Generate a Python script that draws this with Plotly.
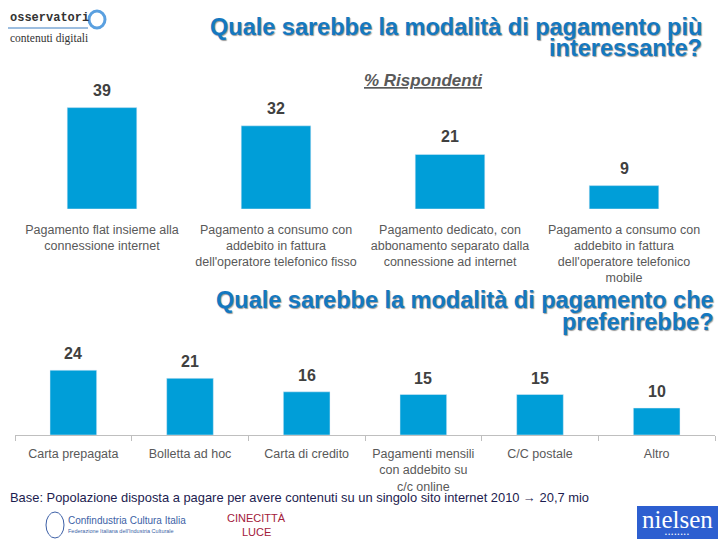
import plotly.graph_objects as go

# ---- data ----
top_categories = [
    "Pagamento flat insieme alla<br>connessione internet",
    "Pagamento a consumo con<br>addebito in fattura<br>dell'operatore telefonico fisso",
    "Pagamento dedicato, con<br>abbonamento separato dalla<br>connessione ad internet",
    "Pagamento a consumo con<br>addebito in fattura<br>dell'operatore telefonico<br>mobile",
]
top_values = [39, 32, 21, 9]

bottom_categories = [
    "Carta prepagata",
    "Bolletta ad hoc",
    "Carta di credito",
    "Pagamenti mensili<br>con addebito su<br>c/c online",
    "C/C postale",
    "Altro",
]
bottom_values = [24, 21, 16, 15, 15, 10]

title_top = ["Quale sarebbe la modalità di pagamento più", "interessante?"]
title_bottom = ["Quale sarebbe la modalità di pagamento che", "preferirebbe?"]
subtitle = "% Rispondenti"
base_note = "Base: Popolazione disposta a pagare per avere contenuti su un singolo sito internet 2010 \u2192 20,7 mio"

BAR = "#009ED8"
LBL = "#595959"
VAL = "#404040"
TITLE = "#1478C0"
FONT = "Liberation Sans Narrow, Liberation Sans, Arial, sans-serif"

W, H = 720, 540
def py(p):
    return 1 - p / H

fig = go.Figure()
fig.add_trace(go.Bar(x=top_categories, y=top_values, marker_color=BAR,
                     xaxis="x", yaxis="y", hoverinfo="skip", showlegend=False))
fig.add_trace(go.Bar(x=bottom_categories, y=bottom_values, marker_color=BAR,
                     xaxis="x2", yaxis="y2", hoverinfo="skip", showlegend=False))

annotations = []
for c, v in zip(top_categories, top_values):
    annotations.append(dict(x=c, y=v, xref="x", yref="y", text=f"<b>{v}</b>",
                            showarrow=False, yanchor="bottom", yshift=7,
                            font=dict(size=16, color=VAL, family=FONT)))
for c, v in zip(bottom_categories, bottom_values):
    annotations.append(dict(x=c, y=v, xref="x2", yref="y2", text=f"<b>{v}</b>",
                            showarrow=False, yanchor="bottom", yshift=6,
                            font=dict(size=16, color=VAL, family=FONT)))

shadow = "1px 1px 1px #9a9a9a"
tfont = dict(size=23.5, color=TITLE, family="Liberation Sans, Arial", shadow=shadow)
for line, yc in zip(title_top, [27, 48]):
    annotations.append(dict(x=704 / W, y=py(yc), xref="paper", yref="paper",
                            text=f"<b>{line}</b>", showarrow=False,
                            xanchor="right", yanchor="middle", font=tfont))
for line, yc in zip(title_bottom, [300, 322]):
    annotations.append(dict(x=716 / W, y=py(yc), xref="paper", yref="paper",
                            text=f"<b>{line}</b>", showarrow=False,
                            xanchor="right", yanchor="middle", font=tfont))

annotations += [
    dict(x=423 / W, y=py(80), xref="paper", yref="paper",
         text=f"<b><i><u>{subtitle}</u></i></b>",
         showarrow=False, xanchor="center", yanchor="middle",
         font=dict(size=17, color=LBL, family=FONT)),
    dict(x=8 / W, y=py(497), xref="paper", yref="paper", text=base_note,
         showarrow=False, xanchor="left", yanchor="middle",
         font=dict(size=12.9, color="#1c1c50", family=FONT)),
    # logos (decorative text)
    dict(x=8 / W, y=py(18), xref="paper", yref="paper", text="<b>osservatori</b>",
         showarrow=False, xanchor="left", yanchor="middle",
         font=dict(size=12, color="#333333", family="Liberation Mono, monospace")),
    dict(x=8 / W, y=py(38), xref="paper", yref="paper", text="contenuti digitali",
         showarrow=False, xanchor="left", yanchor="middle",
         font=dict(size=11.5, color="#333333", family="Liberation Serif, serif")),
    dict(x=66 / W, y=py(520), xref="paper", yref="paper", text="Confindustria Cultura Italia",
         showarrow=False, xanchor="left", yanchor="middle",
         font=dict(size=10, color="#3C5FA6", family=FONT)),
    dict(x=66 / W, y=py(531), xref="paper", yref="paper",
         text="Federazione Italiana dell'Industria Culturale",
         showarrow=False, xanchor="left", yanchor="middle",
         font=dict(size=5.5, color="#3C5FA6", family=FONT)),
    dict(x=256 / W, y=py(518), xref="paper", yref="paper", text="CINECITTÀ",
         showarrow=False, xanchor="center", yanchor="middle",
         font=dict(size=11, color="#A3203A", family="Liberation Sans, Arial")),
    dict(x=256 / W, y=py(532), xref="paper", yref="paper", text="LUCE",
         showarrow=False, xanchor="center", yanchor="middle",
         font=dict(size=11, color="#A3203A", family="Liberation Sans, Arial")),
    dict(x=677 / W, y=py(519), xref="paper", yref="paper", text="nielsen",
         showarrow=False, xanchor="center", yanchor="middle",
         font=dict(size=25, color="white", family="Liberation Serif, serif")),
    dict(x=677 / W, y=py(534), xref="paper", yref="paper", text="• • • • • • • •",
         showarrow=False, xanchor="center", yanchor="middle",
         font=dict(size=5, color="white", family=FONT)),
]

shapes = [
    dict(type="line", xref="paper", yref="paper", x0=8 / W, x1=88 / W, y0=py(28), y1=py(28),
         line=dict(color="#3a7cc0", width=1)),
    dict(type="circle", xref="paper", yref="paper", x0=89 / W, x1=105 / W, y0=py(28), y1=py(11),
         line=dict(color="#5aa0e0", width=3)),
    dict(type="circle", xref="paper", yref="paper", x0=46 / W, x1=64 / W, y0=py(538), y1=py(512),
         line=dict(color="#3C5FA6", width=1)),
    dict(type="rect", xref="paper", yref="paper", x0=637 / W, x1=718 / W, y0=py(539), y1=py(506),
         fillcolor="#2D5FD0", line=dict(width=0), layer="below"),
]

axis_font = dict(size=12.5, color=LBL, family=FONT)
fig.update_layout(
    width=W, height=H,
    margin=dict(l=0, r=0, t=0, b=0),
    paper_bgcolor="white", plot_bgcolor="white",
    bargap=0.6,
    xaxis=dict(domain=[15 / W, 711 / W], anchor="y", showgrid=False, zeroline=False,
               showline=False, ticks="", tickfont=axis_font, ticklabelstandoff=11,
               fixedrange=True),
    yaxis=dict(domain=[py(209), py(79)], anchor="x", range=[0, 50], visible=False),
    xaxis2=dict(domain=[15 / W, 715 / W], anchor="y2", showgrid=False, zeroline=False,
                showline=True, linecolor="#bfbfbf", linewidth=1,
                ticks="outside", tickson="boundaries", ticklen=5, tickcolor="#bfbfbf",
                tickfont=axis_font, ticklabelstandoff=7),
    yaxis2=dict(domain=[py(435), py(327)], anchor="x2", range=[0, 40], visible=False),
    annotations=annotations,
    shapes=shapes,
)

fig.write_html("out.html", config={"displayModeBar": False},
               post_script="document.body.style.margin='0';document.body.style.overflow='hidden';")
